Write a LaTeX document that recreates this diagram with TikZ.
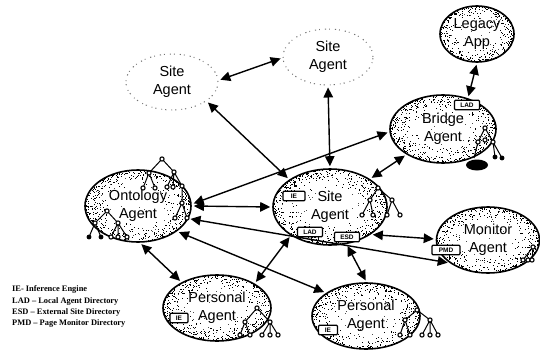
\documentclass[tikz,border=0pt]{standalone}
\usepackage{fontspec}
\setmainfont{Liberation Sans}
\newfontfamily\legendfont{Liberation Serif}
\usetikzlibrary{arrows.meta,shapes.geometric}
\pgfmathsetseed{4242}
\newcommand{\specks}[5]{%
  \foreach \i in {1,...,#5}{%
    \pgfmathsetmacro\tta{rnd*360}%
    \pgfmathsetmacro\rra{1-0.5*rnd*rnd}%
    \pgfmathsetmacro\dx{#1+\rra*#3*cos(\tta)}%
    \pgfmathsetmacro\dy{#2+\rra*#4*sin(\tta)}%
    \fill[black] (\dx-.5,\dy-.5) rectangle ++(1,1);
  }%
  \foreach \i in {1,...,45}{%
    \pgfmathsetmacro\tta{rnd*360}%
    \pgfmathsetmacro\rra{sqrt(rnd)*.9}%
    \pgfmathsetmacro\dx{#1+\rra*#3*cos(\tta)}%
    \pgfmathsetmacro\dy{#2+\rra*#4*sin(\tta)}%
    \fill[black!70] (\dx-.4,\dy-.4) rectangle ++(.8,.8);
  }}
\tikzset{
  x=1pt,y=-1pt,
  agentbase/.style={ellipse,inner sep=0pt,align=center,font=\fontsize{14.5}{18}\selectfont,text=black},
  agent/.style 2 args={agentbase,draw=black,line width=1.6pt,
    minimum width=2*#1 pt,minimum height=2*#2 pt},
  ghost/.style={agentbase,draw=black!55,line width=1pt,dash pattern=on 1.2pt off 5pt on .8pt off 3pt,fill=white},
  link/.style={line width=1.4pt,{Triangle[length=10pt,width=9.5pt]}-{Triangle[length=10pt,width=9.5pt]},shorten <=2pt,shorten >=2pt},
  tag/.style={draw=black,line width=1.1pt,rounded corners=1pt,fill=white,inner sep=0pt,minimum height=9.5pt,font=\fontsize{6.5}{7}\bfseries\selectfont},
  legend/.style={anchor=base west,inner sep=0pt,font=\legendfont\bfseries\fontsize{8.4}{9}\selectfont},
  treeedge/.style={line width=1pt,black},
  treedot/.style={line width=1.1pt,draw=black,fill=white},
  treeleaf/.style={fill=black,draw=black}
}
\newcommand{\dotsat}[1]{\foreach \a/\b in {#1}{\draw[treedot] (\a,\b) circle[radius=2.1pt];}}
\newcommand{\leafsat}[1]{\foreach \a/\b in {#1}{\draw[treeleaf] (\a,\b) circle[radius=2.2pt];}}
\begin{document}
\begin{tikzpicture}
\useasboundingbox (0,0) rectangle (540,350);
% stipple
\specks{477}{34}{37}{28}{380}
\specks{443}{129}{53}{34}{560}
\specks{330}{207}{57}{38}{620}
\specks{488}{240}{51.5}{33}{500}
\specks{366}{316}{54}{33}{520}
\specks{217}{308}{54}{33}{520}
\specks{138}{206}{53}{36}{560}
% agents
\node[ghost,minimum width=92pt,minimum height=56pt] (siteL) at (172,82) {Site\\Agent};
\node[ghost,minimum width=90pt,minimum height=56pt] (siteU) at (328,57) {Site\\Agent};
\node[agent={37}{28}] (legacy) at (477,34) {Legacy\\App};
\node[agent={53}{34}] (bridge) at (443,129) {Bridge\\Agent};
\node[agent={57}{38}] (site) at (330,207) {Site\\Agent};
\node[agent={51.5}{33}] (monitor) at (488,240) {Monitor\\Agent};
\node[agent={54}{33}] (persR) at (366,316) {Personal\\Agent};
\node[agent={54}{33}] (persL) at (217,308) {Personal\\Agent};
\node[agent={53}{36}] (onto) at (138,206) {Ontology\\Agent};
% connectors
\draw[link] (siteL.2) -- (siteU.181);
\draw[link] (siteL.-29) -- (site.146);
\draw[link] (siteU.-90) -- (site.90);
\draw[link] (legacy.-90) -- (bridge.51);
\draw[link] (onto.2) -- (bridge.183);
\draw[link] (onto.0) -- (site.180);
\draw[link] (onto.-14.5) -- (monitor.211);
\draw[link] (onto.-33) -- (persR.150);
\draw[link] (onto.-87) -- (persL.144);
\draw[link] (site.216) -- (persL.33);
\draw[link] (site.-66) -- (persR.89);
\draw[link] (site.-34) -- (monitor.179);
\draw[link] (site.35) -- (bridge.215);
% knowledge trees: ontology, upper
\draw[treeedge] (162,159)--(149,173) (162,159)--(174,172)
  (149,173)--(143,188) (149,173)--(155,188)
  (174,172)--(167,187) (174,172)--(173,187) (174,172)--(182,186)
  (182,186)--(182,203) (182,203)--(175,218) (182,203)--(187,218);
\dotsat{162/159,149/173,174/172,143/188,155/188,167/187,173/187,182/186,182/203,175/218,187/218}
% ontology, lower
\draw[treeedge] (107,211)--(95,223) (107,211)--(118,223)
  (95,223)--(89,237) (95,223)--(101,237)
  (118,223)--(111,237) (118,223)--(118,237) (118,223)--(127,237);
\leafsat{89/237,101/237}
\dotsat{107/211,95/223,118/223,111/237,118/237,127/237}
% site
\draw[treeedge] (378,188)--(370,200) (378,188)--(392,200)
  (370,200)--(362,215) (370,200)--(373,215)
  (392,200)--(387,215) (392,200)--(400,215);
\dotsat{378/188,370/200,392/200,362/215,373/215,387/215,400/215}
% bridge
\fill[black] (477,165) ellipse[x radius=11pt,y radius=5.5pt];
\draw[treeedge] (485,128)--(478,142) (485,128)--(493,142)
  (493,142)--(495,157) (493,142)--(502,158) (478,142)--(474,158);
\dotsat{485/128,478/142,485/140,493/142}
\leafsat{495/157,502/158}
% monitor
\draw[treeedge] (533,247)--(523,260) (533,247)--(532,260);
\dotsat{533/247,523/260,528/260,532/260}
% personal left
\draw[treeedge] (257,308)--(245,322) (257,308)--(270,322)
  (245,322)--(240,335) (245,322)--(250,335)
  (270,322)--(262,335) (270,322)--(270,335) (270,322)--(278,335);
\dotsat{257/308,245/322,270/322,240/335,250/335,262/335,270/335,278/335}
% personal right
\draw[treeedge] (417,310)--(405,320) (417,310)--(430,320)
  (405,320)--(400,335) (405,320)--(410,335)
  (430,320)--(422,335) (430,320)--(430,335) (430,320)--(438,335);
\dotsat{417/310,405/320,430/320,400/335,410/335,422/335,430/335,438/335}
% tags
\node[tag,minimum width=22pt] (tIEs) at (294,196) {IE};
\node[tag,minimum width=25pt] (tLADs) at (310,232) {LAD};
\node[tag,minimum width=25pt] (tESD) at (347,237) {ESD};
\node[tag,minimum width=25pt] (tLADb) at (467,105) {LAD};
\node[tag,minimum width=28pt] (tPMD) at (446,250) {PMD};
\node[tag,minimum width=19pt] (tIEr) at (328,330) {IE};
\node[tag,minimum width=18pt] (tIEl) at (179,318) {IE};
% legend
\node[legend] (l1) at (12,291) {IE- Inference Engine};
\node[legend] (l2) at (12,303) {LAD – Local Agent Directory};
\node[legend] (l3) at (12,314) {ESD – External Site Directory};
\node[legend] (l4) at (12,325) {PMD – Page Monitor Directory};
\end{tikzpicture}
\end{document}
